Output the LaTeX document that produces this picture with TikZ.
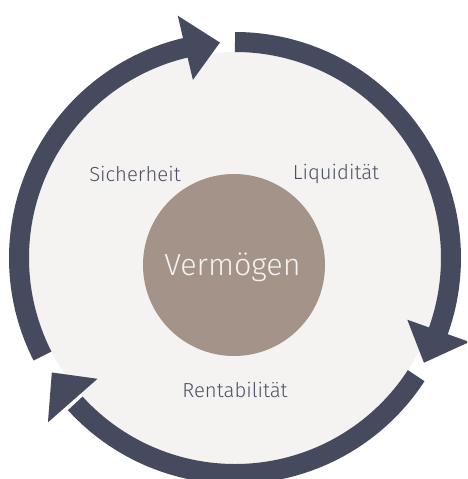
\documentclass[tikz,border=0pt]{standalone}
\usepackage{fontspec}
\setmainfont{Fira Sans Light}
\usetikzlibrary{calc}
\definecolor{ringcol}{HTML}{464A5E}
\definecolor{diskcol}{HTML}{F4F3F1}
\definecolor{corecol}{HTML}{A39389}
\definecolor{txtcol}{HTML}{4E5165}
\tikzset{
  ring/.style={draw=ringcol, line width=20pt, line cap=butt},
  head/.style={fill=ringcol},
  lbl/.style={text=txtcol, font=\fontsize{20.3}{24}\selectfont, inner sep=0pt},
}
\begin{document}
\begin{tikzpicture}[x=1pt,y=1pt]
\useasboundingbox (0,0) rectangle (467,-479);
\clip (0,0) rectangle (467,-479);
\coordinate (C) at (235,-258);
\def\R{216}
\def\H{33}
\fill[diskcol] (C) circle[radius=206];
% segment 1: top -> right
\draw[ring] ($(C)+(90:\R)$) arc[start angle=90, end angle=-20.7, radius=\R];
\fill[head] ($(C)+(-19.7:\R+\H)$) -- ($(C)+(-29:\R)$) -- ($(C)+(-19.7:\R-\H)$) -- cycle;
% segment 2: right -> bottom left
\draw[ring] ($(C)+(-33:\R)$) arc[start angle=-33, end angle=-137.7, radius=\R];
\fill[head] ($(C)+(-138.7:\R+\H)$) -- ($(C)+(-148:\R)$) -- ($(C)+(-138.7:\R-\H)$) -- cycle;
% segment 3: left -> top
\draw[ring] ($(C)+(207:\R)$) arc[start angle=207, end angle=102.3, radius=\R];
\fill[head] ($(C)+(103.3:\R+\H)$) -- ($(C)+(94:\R)$) -- ($(C)+(103.3:\R-\H)$) -- cycle;
% core
\node[circle, fill=corecol, minimum size=182pt, inner sep=0pt] (core) at (234,-265) {};
\node[text=diskcol, font=\fontsize{30.5}{34}\selectfont, inner sep=0pt] (verm) at (232.5,-267) {Vermögen};
\node[lbl] (sich) at (135,-174) {Sicherheit};
\node[lbl] (liq) at (336,-174) {Liquidität};
\node[lbl] (rent) at (235,-390) {Rentabilität};
\end{tikzpicture}
\end{document}
